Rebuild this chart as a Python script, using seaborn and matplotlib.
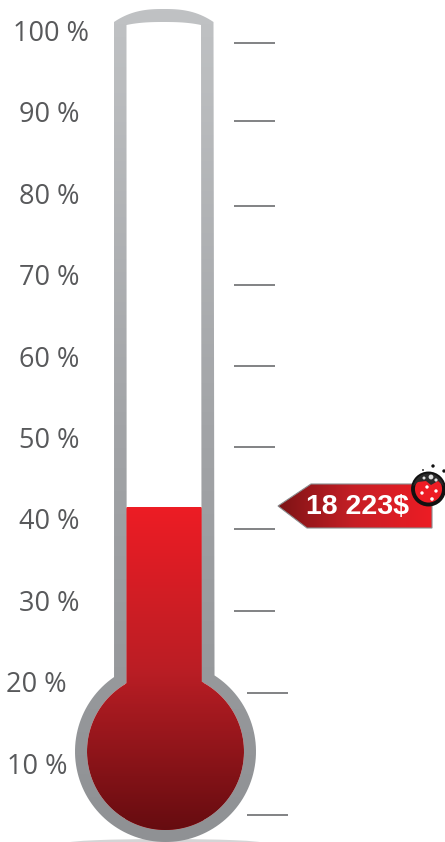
import numpy as np
import pandas as pd
import matplotlib
matplotlib.use("Agg")
import matplotlib.pyplot as plt
from matplotlib.colors import LinearSegmentedColormap
from matplotlib.patches import Ellipse, Polygon
import seaborn as sns

# values
percent_labels = ["100 %", "90 %", "80 %", "70 %", "60 %", "50 %", "40 %", "30 %", "20 %", "10 %"]
label_levels = [100, 90, 80, 70, 60, 50, 40, 30, 20, 10]
label_centers = [51, 49.5, 49.5, 49.5, 49.5, 49.5, 49.5, 49.5, 36.5, 37]
tick_levels = [98.5, 88.9, 78.5, 68.8, 58.8, 48.9, 38.8, 28.75, 18.7, 3.7]
fill_level = 41.5
amount_label = "18 223$"

sns.set_theme(style="white")
plt.rcParams["font.family"] = ["Open Sans", "DejaVu Sans"]

fig = plt.figure(figsize=(4.45, 8.42), dpi=100)
ax = fig.add_axes([0, 0, 1, 1])


# pixels from the top of the picture to percent on the y axis
def pct(y):
    return 100 - (np.asarray(y, dtype=float) - 31) / 8.14


def outline(left, right, y_neck, top_edge, top_mid, r):
    cx, cy = 165.5, 751.5
    a = np.arctan2(y_neck - cy, left - cx) + 2 * np.pi
    b = np.arctan2(y_neck - cy, right - cx)
    # right neck, round the bottom of the bulb, to the left neck
    angles = np.linspace(b, a, 120)
    t = np.linspace(0, 1, 40)
    dome_x = left + (right - left) * t
    dome_y = top_mid + (top_edge - top_mid) * np.abs(2 * t - 1) ** 2.6
    xs = np.r_[dome_x, cx + r * np.cos(angles)]
    ys = np.r_[dome_y, cy + r * np.sin(angles)]
    return np.c_[xs, pct(ys)]


def gradient(colors, extent, clip, zorder, horizontal=False):
    cmap = LinearSegmentedColormap.from_list("g", colors)
    ramp = np.linspace(0, 1, 256)
    ramp = ramp[None, :] if horizontal else ramp[:, None]
    im = ax.imshow(ramp, cmap=cmap, extent=extent, aspect="auto", origin="upper", zorder=zorder)
    im.set_clip_path(clip)
    return im


# shadow under the bulb
ax.add_patch(Ellipse((165, pct(843)), 195, 8 / 8.14, color="#d4d5d6", lw=0, zorder=1))

# glass
outer = Polygon(outline(114, 213.5, 677, 22, 9, 90.5), closed=True, fc="none", ec="none")
ax.add_patch(outer)
gradient(["#c0c2c4", "#a2a4a7", "#8f9194"], (70, 260, pct(843), pct(8)), outer, 2)

inner = Polygon(outline(126.5, 201, 683, 25, 22, 78.5), closed=True, fc="white", ec="none", zorder=3)
ax.add_patch(inner)

# red column
df = pd.DataFrame({"pos": [164], "level": [fill_level]})
sns.barplot(data=df, x="pos", y="level", native_scale=True, width=80, color="#bb1e25",
            saturation=1, ax=ax, zorder=4)
bar = ax.patches[-1]
bar.set_clip_path(inner)
gradient(["#ed1c24", "#bb1e25", "#660c10"], (80, 250, pct(830), bar.get_height()), inner, 5)

# scale marks and labels
for level in tick_levels:
    x0, x1 = (247, 288) if level < 20 else (234, 275)
    ax.hlines(level, x0, x1, color="#77787b", lw=1.3, zorder=2)

for text, level, xc in zip(percent_labels, label_levels, label_centers):
    ax.text(xc, level - 3 / 8.14, text, ha="center", va="center", fontsize=19.5, color="#58595b")

# value tag
tag_xy = [(278, 506), (311, 484), (432, 484), (432, 528), (307, 528)]
tag = Polygon([(x, pct(y)) for x, y in tag_xy], closed=True, fc="none", ec="#8a8c8e", lw=0.8, zorder=7)
ax.add_patch(tag)
gradient(["#7d1315", "#c71f26", "#ed1c24"], (278, 432, pct(528), pct(484)), tag, 6, horizontal=True)
ax.text(358, pct(507), amount_label, ha="center", va="center", color="white", fontsize=20.5,
        fontweight="bold", family=["Liberation Sans"], zorder=8)

# ladybug
ax.set_xlim(0, 445)
ax.set_ylim(pct(842), pct(0))
sy = 1 / 8.14


def dot(x, y, r, color, z=11):
    ax.add_patch(Ellipse((x, pct(y)), 2 * r, 2 * r * sy, fc=color, ec="none", zorder=z))


ax.add_patch(Ellipse((428.5, pct(489)), 31, 31 * sy, fc="#ed1c24", ec="#111111", lw=2.8, zorder=9))
head_t = np.radians(np.linspace(190, 350, 30))
head = np.c_[428.5 + 15.5 * np.cos(head_t), pct(489 + 15.5 * np.sin(head_t))]
head = np.r_[head, [[438, pct(481)], [431, pct(485)], [426, pct(481)], [418, pct(482)]]]
ax.add_patch(Polygon(head, closed=True, fc="#2a2a2a", ec="none", zorder=10))
spots = [(431, 477, 2.4, "#e0e0e0"), (436, 480, 1.6, "#e0e0e0"), (424, 478, 1.5, "#e0e0e0"),
         (422, 493, 1.7, "white"), (427, 487, 1.7, "white"), (436, 491, 1.7, "white"),
         (432, 499, 1.8, "white"),
         (433, 466, 1.7, "#111111"), (444, 471, 1.7, "#111111"), (423, 470, 0.9, "#111111")]
for x, y, r, c in spots:
    dot(x, y, r, c)

ax.set_axis_off()
fig.savefig("out.png", dpi=100, facecolor="white")
